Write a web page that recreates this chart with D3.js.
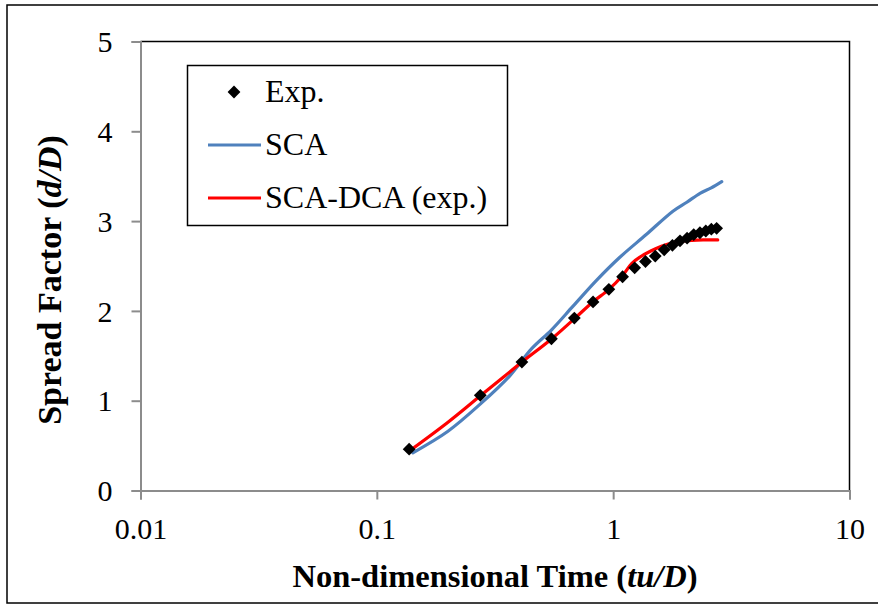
<!DOCTYPE html>
<html>
<head>
<meta charset="utf-8">
<script src="https://cdn.jsdelivr.net/npm/d3@7/dist/d3.min.js"></script>
<style>
  html, body { margin: 0; padding: 0; background: #fff; }
  svg { display: block; }
  text { font-family: "Liberation Serif", "Times New Roman", serif; fill: #000; }
</style>
</head>
<body>
<svg id="chart" width="878" height="605"></svg>
<script>
// Experimental spread factor, sampled at equal time steps
const expTime = [0.137, 0.274, 0.411, 0.548, 0.685, 0.822, 0.959, 1.096, 1.233, 1.37,
                 1.507, 1.644, 1.781, 1.918, 2.055, 2.192, 2.329, 2.466, 2.603, 2.74];
const expSpread = [0.46, 1.06, 1.43, 1.69, 1.92, 2.10, 2.24, 2.38, 2.48, 2.55,
                   2.61, 2.68, 2.73, 2.78, 2.81, 2.85, 2.87, 2.89, 2.91, 2.92];

// Simulation with static contact angle
const scaTime   = [0.142, 0.2, 0.276, 0.366, 0.452, 0.549, 0.675, 0.85, 1.07, 1.38, 1.79, 2.05, 2.33, 2.6, 2.88];
const scaSpread = [0.42, 0.66, 0.97, 1.28, 1.58, 1.79, 2.05, 2.34, 2.60, 2.85, 3.11, 3.21, 3.31, 3.37, 3.44];

// Simulation with dynamic contact angle from experiment
const dcaTime   = [0.139, 0.2, 0.276, 0.35, 0.411, 0.55, 0.69, 0.82, 0.96, 1.1, 1.2, 1.3, 1.45, 1.6, 1.8, 2.0, 2.4, 2.77];
const dcaSpread = [0.45, 0.76, 1.06, 1.28, 1.43, 1.69, 1.92, 2.10, 2.24, 2.40, 2.53, 2.60, 2.67, 2.72, 2.76, 2.78, 2.79, 2.79];

const xTicks = [0.01, 0.1, 1, 10];
const yTicks = [0, 1, 2, 3, 4, 5];
const xTickLabels = ["0.01", "0.1", "1", "10"];

const svg = d3.select("#chart");
const plot = { left: 140.5, right: 849.5, top: 41.5, bottom: 490.5 };

// outer frame
svg.append("rect")
  .attr("x", 7).attr("y", 5).attr("width", 880).attr("height", 598)
  .attr("fill", "none").attr("stroke", "#000").attr("stroke-width", 1.5);

const x = d3.scaleLog().domain([0.01, 10]).range([plot.left, plot.right]);
const y = d3.scaleLinear().domain([0, 5]).range([plot.bottom, plot.top]);

// plot area top/right border
svg.append("path")
  .attr("d", `M${plot.left},${plot.top}H${plot.right}V${plot.bottom}`)
  .attr("fill", "none").attr("stroke", "#000").attr("stroke-width", 1.5);

// axes
const axisColor = "#8c8c8c";
const xAxis = svg.append("g")
  .attr("transform", `translate(0,${plot.bottom})`)
  .call(d3.axisBottom(x).tickValues(xTicks).tickFormat((d, i) => xTickLabels[i]).tickSize(9).tickPadding(19));
const yAxis = svg.append("g")
  .attr("transform", `translate(${plot.left},0)`)
  .call(d3.axisLeft(y).tickValues(yTicks).tickFormat(d3.format("d")).tickSize(9).tickPadding(19));

[xAxis, yAxis].forEach(g => {
  g.select(".domain").attr("stroke", axisColor).attr("stroke-width", 2);
  g.selectAll(".tick line").attr("stroke", axisColor).attr("stroke-width", 2);
  g.selectAll(".tick text")
    .attr("font-family", "Liberation Serif").attr("font-size", 30).attr("fill", "#000");
});
yAxis.selectAll(".tick text").attr("dy", "0.34em");
xAxis.selectAll(".tick text").attr("dy", "0.68em");

// axis titles
const xTitle = svg.append("text")
  .attr("x", (plot.left + plot.right) / 2).attr("y", 587)
  .attr("text-anchor", "middle").attr("font-size", 32.5).attr("font-weight", "bold");
xTitle.append("tspan").text("Non-dimensional Time (");
xTitle.append("tspan").attr("font-style", "italic").text("tu/D");
xTitle.append("tspan").text(")");

const yTitle = svg.append("text")
  .attr("transform", `translate(61,280) rotate(-90)`)
  .attr("text-anchor", "middle").attr("font-size", 34).attr("font-weight", "bold");
yTitle.append("tspan").text("Spread Factor (");
yTitle.append("tspan").attr("font-style", "italic").text("d/D");
yTitle.append("tspan").text(")");

// curves
const line = d3.line()
  .x(d => x(d[0])).y(d => y(d[1]))
  .curve(d3.curveCatmullRom.alpha(0.5));

const scaData = scaTime.map((t, i) => [t, scaSpread[i]]);
const dcaData = dcaTime.map((t, i) => [t, dcaSpread[i]]);
const expData = expTime.map((t, i) => [t, expSpread[i]]);

const blue = "#4f81bd", red = "#ff0000";

svg.append("path").datum(scaData)
  .attr("d", line).attr("fill", "none").attr("stroke", blue)
  .attr("stroke-width", 3.2).attr("stroke-linejoin", "round").attr("stroke-linecap", "round");

svg.append("path").datum(dcaData)
  .attr("d", line).attr("fill", "none").attr("stroke", red)
  .attr("stroke-width", 3.2).attr("stroke-linejoin", "round").attr("stroke-linecap", "round");

// experimental markers: squares turned 45 degrees
const diamond = d3.symbol().type(d3.symbolSquare).size(82);
svg.append("g").selectAll("path").data(expData).join("path")
  .attr("d", diamond)
  .attr("transform", d => `translate(${x(d[0])},${y(d[1])}) rotate(45)`)
  .attr("fill", "#000");

// legend
const legend = svg.append("g");
legend.append("rect")
  .attr("x", 187.5).attr("y", 65.5).attr("width", 320).attr("height", 160)
  .attr("fill", "#fff").attr("stroke", "#000").attr("stroke-width", 1.5);

legend.append("path").attr("d", diamond)
  .attr("transform", "translate(234,92) rotate(45)").attr("fill", "#000");
legend.append("text").attr("x", 265).attr("y", 102).attr("font-size", 32).text("Exp.");

legend.append("line").attr("x1", 208).attr("x2", 261).attr("y1", 145).attr("y2", 145)
  .attr("stroke", blue).attr("stroke-width", 3.2);
legend.append("text").attr("x", 265).attr("y", 155).attr("font-size", 32).text("SCA");

legend.append("line").attr("x1", 208).attr("x2", 261).attr("y1", 198).attr("y2", 198)
  .attr("stroke", red).attr("stroke-width", 3.2);
legend.append("text").attr("x", 265).attr("y", 208).attr("font-size", 32).text("SCA-DCA (exp.)");
</script>
</body>
</html>
